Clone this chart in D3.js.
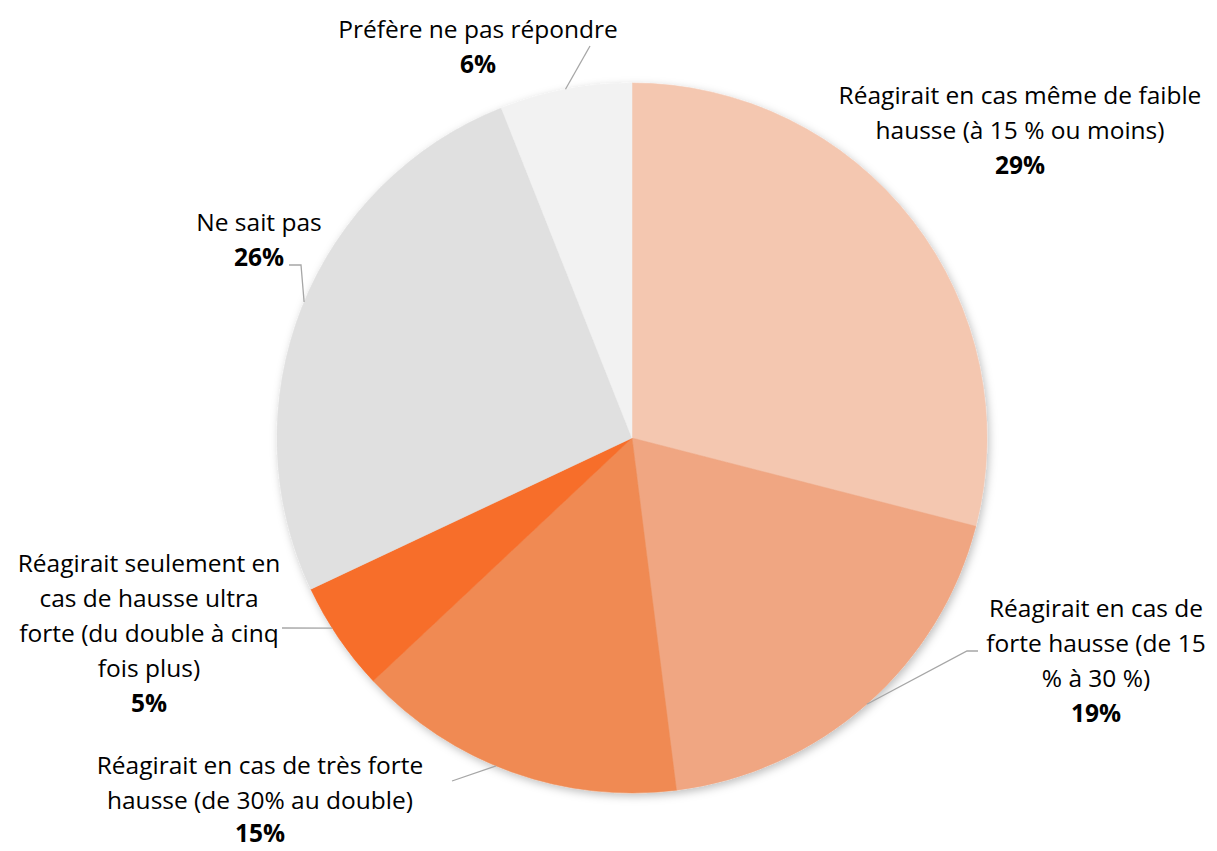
<!DOCTYPE html>
<html>
<head>
<meta charset="utf-8">
<script src="https://cdn.jsdelivr.net/npm/d3@7"></script>
<style>
  body { margin: 0; background: #fff; }
  text { font-family: "Open Sans", sans-serif; fill: #000; }
</style>
</head>
<body>
<script>
const w = 1217, h = 851;
const cx = 632, cy = 438, radius = 355;

// data (clockwise from 12 o'clock)
const categories = [
  "Réagirait en cas même de faible hausse (à 15 % ou moins)",
  "Réagirait en cas de forte hausse (de 15 % à 30 %)",
  "Réagirait en cas de très forte hausse (de 30% au double)",
  "Réagirait seulement en cas de hausse ultra forte (du double à cinq fois plus)",
  "Ne sait pas",
  "Préfère ne pas répondre"
];
const values = [29, 19, 15, 5, 26, 6];
const colors = ["#F4C7B0", "#F0A682", "#F08A53", "#F76E2B", "#E0E0E0", "#F2F2F2"];
const labelLines = [
  ["Réagirait en cas même de faible", "hausse (à 15 % ou moins)"],
  ["Réagirait en cas de", "forte hausse (de 15", "% à 30 %)"],
  ["Réagirait en cas de très forte", "hausse (de 30% au double)"],
  ["Réagirait seulement en", "cas de hausse ultra", "forte (du double à cinq", "fois plus)"],
  ["Ne sait pas"],
  ["Préfère ne pas répondre"]
];

// label block placement (center x, first baseline y), leader anchor along slice (t) and elbow points
const labelPos = [
  {x: 1020, y: 104, leader: null},
  {x: 1096, y: 617, t: 0.5, leader: [[967, 651], [978, 651]]},
  {x: 260, y: 774, t: 0.55, leader: [[452, 781]]},
  {x: 149, y: 572, t: 0.6, leader: [[282, 628]]},
  {x: 259, y: 231, t: 0.51, leader: [[301, 265], [289, 265]]},
  {x: 478, y: 38, t: 0.5, leader: [[590, 46]]}
];
const lineH = 35;

const svg = d3.select("body")
  .append("svg")
  .attr("width", w)
  .attr("height", h);

const defs = svg.append("defs");
const shadow = defs.append("filter").attr("id", "shadow")
  .attr("x", "-10%").attr("y", "-10%").attr("width", "120%").attr("height", "120%");
shadow.append("feDropShadow")
  .attr("dx", 2).attr("dy", 3).attr("stdDeviation", 4)
  .attr("flood-color", "#000").attr("flood-opacity", 0.25);

const pie = d3.pie().sort(null).value(d => d);
const arcs = pie(values);
const arc = d3.arc().innerRadius(0).outerRadius(radius);

const g = svg.append("g").attr("transform", `translate(${cx},${cy})`);

g.append("g").attr("filter", "url(#shadow)")
  .selectAll("path")
  .data(arcs)
  .enter()
  .append("path")
  .attr("d", arc)
  .attr("fill", (d, i) => colors[i])
  .attr("stroke", (d, i) => colors[i])
  .attr("stroke-width", 0.5);

// leader lines from the slice rim
arcs.forEach((d, i) => {
  const lp = labelPos[i];
  if (!lp.leader) return;
  const a = d.startAngle + (d.endAngle - d.startAngle) * lp.t;
  const start = [cx + radius * Math.sin(a), cy - radius * Math.cos(a)];
  svg.append("path")
    .attr("d", d3.line()([start, ...lp.leader]))
    .attr("fill", "none")
    .attr("stroke", "#A6A6A6")
    .attr("stroke-width", 1.3);
});

// labels
labelLines.forEach((lines, i) => {
  const lp = labelPos[i];
  const t = svg.append("text")
    .attr("text-anchor", "middle")
    .style("font-size", "24.5px");
  lines.forEach((l, j) => {
    t.append("tspan").attr("x", lp.x).attr("y", lp.y + j * lineH).text(l);
  });
  t.append("tspan")
    .attr("x", lp.x)
    .attr("y", lp.y + lines.length * lineH - (i === 2 ? 2 : 0))
    .style("font-weight", "bold")
    .text(values[i] + "%");
});
</script>
</body>
</html>
